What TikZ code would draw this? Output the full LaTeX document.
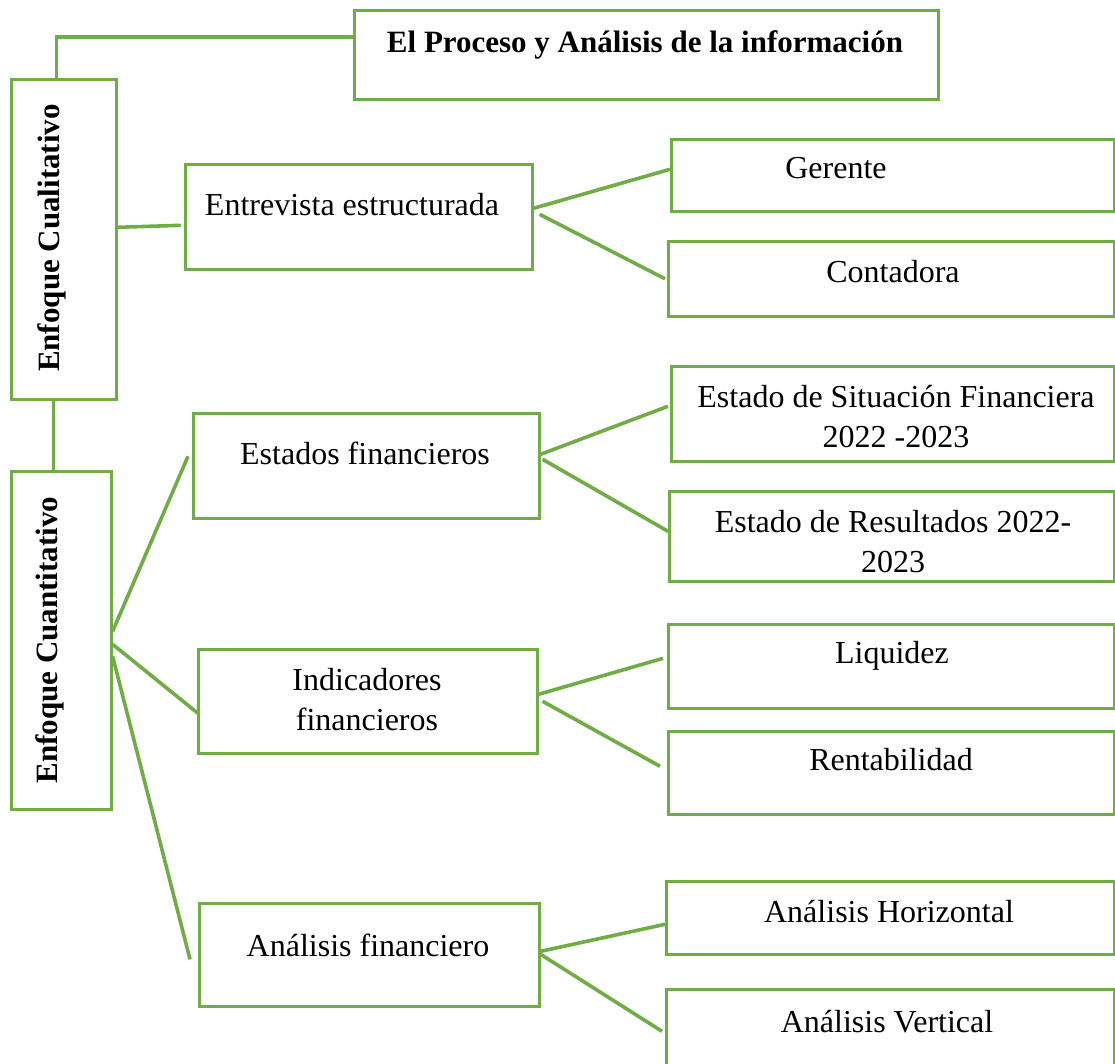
\documentclass[tikz,border=0pt]{standalone}
\usepackage{fontspec}
\setmainfont{Liberation Serif}
\usetikzlibrary{calc}
\definecolor{grn}{HTML}{70AD47}
\begin{document}
\begin{tikzpicture}[x=1pt,y=-1pt,
  box/.style={draw=grn,line width=2.6pt,rectangle,inner sep=0pt,anchor=north west},
  conn/.style={draw=grn,line width=3.6pt},
  txt/.style={font=\fontsize{32}{40}\selectfont,text=black,align=center,inner sep=0pt},
  btxt/.style={font=\fontsize{31}{38}\selectfont\bfseries,text=black,align=center,inner sep=0pt}]
\useasboundingbox (0,0) rectangle (1115,1063);
\clip (0,0) rectangle (1115,1063);
% boxes
\node[box,minimum width=584pt,minimum height=89pt] (title) at (353,9) {};
\node[box,minimum width=105pt,minimum height=320pt] (cual) at (10,78) {};
\node[box,minimum width=100pt,minimum height=338pt] (cuan) at (10,470) {};
\node[box,minimum width=347pt,minimum height=105pt] (ent) at (184,163) {};
\node[box,minimum width=443pt,minimum height=72pt] (ger) at (670,138) {};
\node[box,minimum width=446pt,minimum height=75pt] (con) at (667,240) {};
\node[box,minimum width=346pt,minimum height=105pt] (ef) at (192,412) {};
\node[box,minimum width=443pt,minimum height=95pt] (esf) at (670,365) {};
\node[box,minimum width=445pt,minimum height=90pt] (er) at (668,490) {};
\node[box,minimum width=339pt,minimum height=104pt] (ind) at (197,648) {};
\node[box,minimum width=446pt,minimum height=84pt] (liq) at (667,623) {};
\node[box,minimum width=446pt,minimum height=83pt] (ren) at (667,730) {};
\node[box,minimum width=340pt,minimum height=103pt] (af) at (198,902) {};
\node[box,minimum width=448pt,minimum height=73pt] (ah) at (665,880) {};
\node[box,minimum width=448pt,minimum height=102pt] (av) at (665,988) {};
% texts
\node[btxt] (ttitle) at (645,45) {El Proceso y Análisis de la información};
\node[btxt,rotate=90] (tcual) at (52,238) {Enfoque Cualitativo};
\node[btxt,rotate=90] (tcuan) at (50,640) {Enfoque Cuantitativo};
\node[txt] (tent) at (352,205) {Entrevista estructurada};
\node[txt] (tger) at (836,168) {Gerente};
\node[txt] (tcon) at (893,272) {Contadora};
\node[txt] (tef) at (365,453) {Estados financieros};
\node[txt] (tesf) at (896,417) {Estado de Situación Financiera\\2022 -2023};
\node[txt] (ter) at (893,542) {Estado de Resultados 2022-\\2023};
\node[txt] (tind) at (367,700) {Indicadores\\financieros};
\node[txt] (tliq) at (892,656) {Liquidez};
\node[txt] (tren) at (891,760) {Rentabilidad};
\node[txt] (taf) at (368,945) {Análisis financiero};
\node[txt] (tah) at (889,912) {Análisis Horizontal};
\node[txt] (tav) at (887,1022) {Análisis Vertical};
% connectors
\draw[conn] ([yshift=18pt]title.west) -| ([xshift=-7.5pt]cual.north);
\draw[conn] ([xshift=-10.5pt]cual.south) -- ([xshift=-8pt]cuan.north);
\draw[conn] ([yshift=12pt]cual.east) -- ([xshift=-3pt,yshift=-8.5pt]ent.west);
\draw[conn] ([yshift=8.5pt]ent.east) -- ([yshift=6pt]ger.west);
\draw[conn] ([xshift=6pt,yshift=2.5pt]ent.east) -- ([xshift=-2pt]con.west);
\draw[conn] ([yshift=11.5pt]ef.east) -- ([xshift=-2pt,yshift=7.5pt]esf.west);
\draw[conn] ([xshift=2pt,yshift=6.5pt]ef.east) -- ([yshift=5pt]er.west);
\draw[conn] ([yshift=7pt]ind.east) -- ([xshift=-4pt,yshift=8pt]liq.west);
\draw[conn] ([xshift=4pt]ind.east) -- ([xshift=-7pt,yshift=6.5pt]ren.west);
\draw[conn] ([yshift=3.5pt]af.east) -- ([yshift=-6.5pt]ah.west);
\draw[conn] ([yshift=0.5pt]af.east) -- ([xshift=-3pt,yshift=9pt]av.west);
\draw[conn] ([yshift=9pt]cuan.east) -- ([xshift=-4pt,yshift=9.5pt]ef.west);
\draw[conn] ([yshift=-4pt]cuan.east) -- ([xshift=1pt,yshift=-12pt]ind.west);
\draw[conn] ([yshift=-16pt]cuan.east) -- ([xshift=-8pt,yshift=-4.5pt]af.west);
\end{tikzpicture}
\end{document}
